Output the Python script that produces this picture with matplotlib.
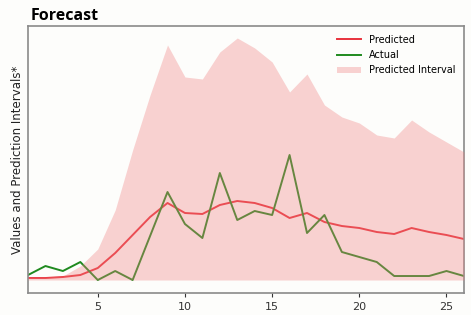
import numpy as np
import matplotlib
matplotlib.use("Agg")
import matplotlib.pyplot as plt

weeks = np.arange(1, 27)
predicted = [2, 2, 3, 5, 12, 27, 45, 63, 77, 67, 66, 75, 79, 77, 72, 62, 67, 58, 54, 52, 48, 46, 52, 48, 45, 41]
actual = [5, 14, 9, 18, 0, 9, 0, 44, 88, 56, 42, 107, 60, 69, 65, 125, 47, 65, 28, 23, 18, 4, 4, 4, 9, 4]
upper = [3, 3, 4, 14, 31, 70, 130, 185, 235, 203, 201, 228, 242, 232, 218, 188, 206, 175, 163, 157, 145, 142, 160, 148, 138, 128]
lower = [0] * 26

fig = plt.figure(figsize=(4.71, 3.15), dpi=100)
fig.patch.set_facecolor("#fdfdfb")
ax = fig.add_axes([0.0595, 0.0698, 0.9255, 0.8477])
ax.set_facecolor("#fdfdfb")

ax.plot(weeks, predicted, color="#e8323c", lw=1.4, label="Predicted")
ax.plot(weeks, actual, color="#1f8a1f", lw=1.4, label="Actual")
# interval drawn over the lines, as in the original
ax.fill_between(weeks, lower, upper, color="#f08080", alpha=0.35, lw=0,
                label="Predicted Interval", zorder=3)

ax.set_xlim(1, 26)
ax.set_ylim(-13, 254)
ax.set_xticks([5, 10, 15, 20, 25])
ax.set_yticks([])
ax.tick_params(axis="x", labelsize=8, colors="#333333", length=3, width=0.8)
for s in ax.spines.values():
    s.set_color("#8a8a8a")
    s.set_linewidth(1.2)

ax.set_ylabel("Values and Prediction Intervals*", fontsize=8.5, color="#222222", labelpad=3)
fig.text(0.064, 0.95, "Forecast", fontsize=11.5, fontweight="bold", family="Open Sans", va="center", ha="left")

ax.legend(loc="upper right", frameon=False, fontsize=7, handlelength=2.5, labelspacing=0.55,
          bbox_to_anchor=(1.0, 1.0))

fig.savefig("out.png", dpi=100, facecolor=fig.get_facecolor())
